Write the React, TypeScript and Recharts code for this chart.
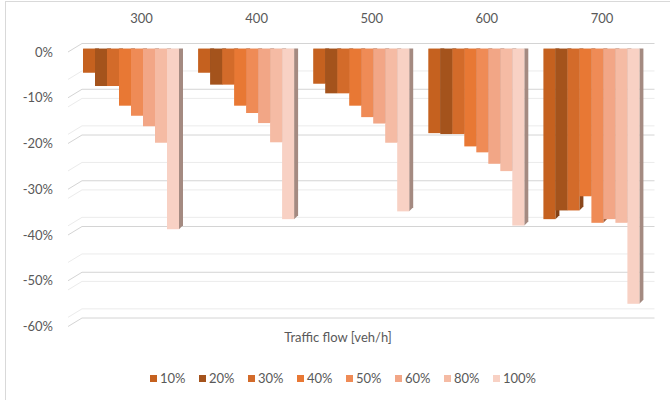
import React from "react";
import { BarChart, Bar, XAxis, YAxis, CartesianGrid } from "recharts";

const categories = ["300", "400", "500", "600", "700"];
const seriesNames = ["10%", "20%", "30%", "40%", "50%", "60%", "80%", "100%"];
const seriesColors = ["#C5611F", "#A4531C", "#D36B2A", "#E87834", "#EF8B56", "#F2A686", "#F5BBA4", "#F8D1C4"];

// values in %, one list per series, in category order
const s10 = [-5.3, -5.3, -7.7, -18.5, -37.3];
const s20 = [-8.2, -7.9, -9.8, -18.7, -35.4];
const s30 = [-8.2, -7.9, -9.8, -18.7, -35.4];
const s40 = [-12.5, -12.5, -12.5, -21.4, -32.3];
const s50 = [-14.7, -14.1, -15.0, -22.7, -38.1];
const s60 = [-17.0, -16.3, -16.4, -25.2, -37.3];
const s80 = [-20.6, -20.5, -20.6, -26.8, -38.1];
const s100 = [-39.5, -37.3, -35.6, -38.7, -55.8];
const seriesValues = [s10, s20, s30, s40, s50, s60, s80, s100];

const majorTicks = [0, -10, -20, -30, -40, -50, -60];
const minorTicks = [-2, -4, -6, -8, -12, -14, -16, -18, -22, -24, -26, -28, -32, -34, -36, -38, -42, -44, -46, -48, -52, -54, -56, -58];

const data = categories.map((c, i) => {
  const row: Record<string, string | number> = { name: c };
  seriesNames.forEach((s, j) => (row[s] = seriesValues[j][i]));
  return row;
});

const FONT = "Lato, 'Open Sans', sans-serif";
const TEXT = "#595959";

function shade(hex: string, f: number) {
  const n = parseInt(hex.slice(1), 16);
  const r = Math.round(((n >> 16) & 255) * f);
  const g = Math.round(((n >> 8) & 255) * f);
  const b = Math.round((n & 255) * f);
  return `rgb(${r},${g},${b})`;
}

// front face + top + right side, fake excel 3d column
// eslint-disable-next-line @typescript-eslint/no-explicit-any
const Bar3D = (props: any) => {
  const { x, y, width, height, fill } = props;
  if (x == null || y == null) return null;
  const top = Math.min(y, y + height);
  const bot = Math.max(y, y + height);
  const d = 4;
  return (
    <g>
      <polygon
        points={`${x + width},${top} ${x + width + d},${top - d} ${x + width + d},${bot - d} ${x + width},${bot}`}
        fill={shade(fill, 0.66)}
      />
      <polygon
        points={`${x},${top} ${x + d},${top - d} ${x + width + d},${top - d} ${x + width},${top}`}
        fill={shade(fill, 0.88)}
      />
      <rect x={x} y={top} width={width} height={bot - top} fill={fill} />
    </g>
  );
};

// eslint-disable-next-line @typescript-eslint/no-explicit-any
const gridLine = (stroke: string) => (p: any) => (
  <path
    key={p.key}
    d={`M${p.x1 - 6},${p.y1 + 3.5} L${p.x1 + 8},${p.y1 - 5} L${p.x2 + 5},${p.y2 - 5}`}
    fill="none"
    stroke={stroke}
    strokeWidth={1}
  />
);

// eslint-disable-next-line @typescript-eslint/no-explicit-any
const YTick = ({ y, payload }: any) => (
  <text x={53} y={y + 8} textAnchor="end" fontSize={13} fill={TEXT} fontFamily={FONT}>
    {`${payload.value}%`}
  </text>
);

// eslint-disable-next-line @typescript-eslint/no-explicit-any
const XTick = ({ x, payload }: any) => (
  <text x={x + 10} y={23} textAnchor="middle" fontSize={13} fill={TEXT} fontFamily={FONT}>
    {payload.value}
  </text>
);

export default function App() {
  return (
    <div style={{ position: "absolute", left: 0, top: 0, width: 670, height: 400, background: "#fff", fontFamily: FONT }}>
      {/* chart area border (cropped on right/bottom) */}
      <div style={{ position: "absolute", left: 5, top: 1, width: 680, height: 420, border: "1px solid #D9D9D9" }} />
      <BarChart
        width={670}
        height={400}
        data={data}
        margin={{ top: 0, right: 20.5, left: 0, bottom: 77 }}
        barCategoryGap={9}
        barGap={0}
        style={{ position: "absolute", left: 0, top: 0 }}
      >
        <CartesianGrid horizontalValues={minorTicks} vertical={false} horizontal={gridLine("#EBEBEB")} />
        <CartesianGrid horizontalValues={majorTicks} vertical={false} horizontal={gridLine("#D4D4D4")} />
        <XAxis
          dataKey="name"
          orientation="top"
          height={48.5}
          axisLine={false}
          tickLine={false}
          tick={<XTick />}
        />
        <YAxis
          type="number"
          domain={[-60, 0]}
          ticks={majorTicks}
          width={74}
          axisLine={false}
          tickLine={false}
          tick={<YTick />}
          allowDataOverflow
        />
        {seriesNames.map((s, i) => (
          <Bar key={s} dataKey={s} fill={seriesColors[i]} shape={<Bar3D />} isAnimationActive={false} />
        ))}
      </BarChart>
      <div style={{ position: "absolute", left: 0, width: 676, top: 329, textAlign: "center", fontSize: 13, color: TEXT }}>
        Traffic flow [veh/h]
      </div>
      <div style={{ position: "absolute", left: 150, top: 370, display: "flex", alignItems: "center", fontSize: 13, color: TEXT }}>
        {seriesNames.map((s, i) => (
          <div key={s} style={{ display: "flex", alignItems: "center", width: 49 }}>
            <span style={{ display: "inline-block", width: 7, height: 7, background: seriesColors[i], marginRight: 3 }} />
            <span>{s}</span>
          </div>
        ))}
      </div>
    </div>
  );
}
